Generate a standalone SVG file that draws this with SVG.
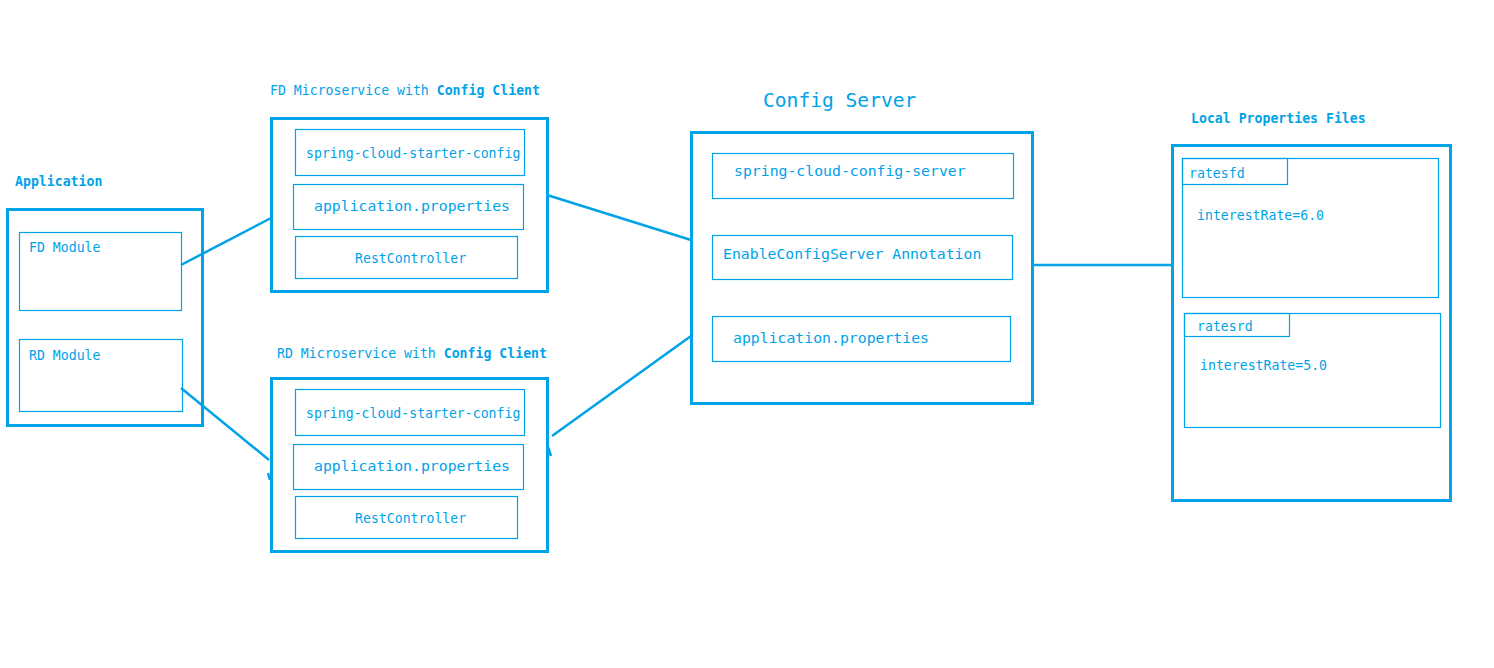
<svg xmlns="http://www.w3.org/2000/svg" width="1494" height="668" viewBox="0 0 1494 668">
<style>
text{font-family:"DejaVu Sans Mono","Liberation Mono",monospace;fill:#00A2E8;}
.s{font-size:13.2px;}
.m{font-size:14.8px;}
.b{font-weight:bold;}
.outer{fill:none;stroke:#00A2E8;stroke-width:3;}
.inner{fill:none;stroke:#00A2E8;stroke-width:1.2;}
.conn{fill:none;stroke:#00A2E8;stroke-width:2.5;}
</style>
<rect width="1494" height="668" fill="#fff"/>
<g id="application">
<text class="s b" x="15" y="186">Application</text>
<rect class="outer" x="7.5" y="209.5" width="195" height="216"/>
<g id="fd-module"><rect class="inner" x="19.5" y="232.5" width="162" height="78"/><text class="s" x="29" y="252">FD Module</text></g>
<g id="rd-module"><rect class="inner" x="19.5" y="339.5" width="163" height="72"/><text class="s" x="29" y="360">RD Module</text></g>
</g>
<g id="fd-microservice">
<text class="s" x="270" y="95">FD Microservice with <tspan class="b">Config Client</tspan></text>
<rect class="outer" x="271.5" y="118.5" width="276" height="173"/>
<rect class="inner" x="295.5" y="129.5" width="229" height="46"/><text class="s" x="306" y="158">spring-cloud-starter-config</text>
<rect class="inner" x="293.5" y="184.5" width="230" height="45"/><text class="m" x="314" y="211">application.properties</text>
<rect class="inner" x="295.5" y="236.5" width="222" height="42"/><text class="s" x="355" y="263">RestController</text>
</g>
<g id="rd-microservice">
<text class="s" x="277" y="358">RD Microservice with <tspan class="b">Config Client</tspan></text>
<rect class="outer" x="271.5" y="378.5" width="276" height="173"/>
<rect class="inner" x="295.5" y="389.5" width="229" height="46"/><text class="s" x="306" y="418">spring-cloud-starter-config</text>
<rect class="inner" x="293.5" y="444.5" width="230" height="45"/><text class="m" x="314" y="471">application.properties</text>
<rect class="inner" x="295.5" y="496.5" width="222" height="42"/><text class="s" x="355" y="523">RestController</text>
</g>
<g id="config-server">
<text x="763" y="107" style="font-size:19.6px">Config Server</text>
<rect class="outer" x="691.5" y="132.5" width="341" height="271"/>
<rect class="inner" x="712.5" y="153.5" width="301" height="45"/><text class="m" x="734" y="176">spring-cloud-config-server</text>
<rect class="inner" x="712.5" y="235.5" width="300" height="44"/><text class="m" x="723" y="259">EnableConfigServer Annotation</text>
<rect class="inner" x="712.5" y="316.5" width="298" height="45"/><text class="m" x="733" y="343">application.properties</text>
</g>
<g id="local-properties">
<text class="s b" x="1191" y="123">Local Properties Files</text>
<rect class="outer" x="1172.5" y="145.5" width="278" height="355"/>
<g id="ratesfd">
<rect class="inner" x="1182.5" y="158.5" width="256" height="139"/>
<rect class="inner" x="1182.5" y="158.5" width="105" height="26"/>
<text class="s" x="1189" y="178">ratesfd</text>
<text class="s" x="1197" y="220">interestRate=6.0</text>
</g>
<g id="ratesrd">
<rect class="inner" x="1184.5" y="313.5" width="256" height="114"/>
<rect class="inner" x="1184.5" y="313.5" width="105" height="23"/>
<text class="s" x="1197" y="331">ratesrd</text>
<text class="s" x="1200" y="370">interestRate=5.0</text>
</g>
</g>
<g id="connectors">
<line class="conn" x1="181" y1="265" x2="271" y2="218"/>
<line class="conn" x1="181" y1="388" x2="269" y2="460"/>
<line class="conn" x1="268" y1="473" x2="270" y2="480"/>
<line class="conn" x1="547" y1="195" x2="691" y2="240"/>
<line class="conn" x1="691" y1="336" x2="552" y2="436"/>
<line class="conn" x1="548" y1="447" x2="551" y2="456"/>
<line class="conn" x1="1033" y1="265" x2="1172" y2="265"/>
</g>
</svg>
